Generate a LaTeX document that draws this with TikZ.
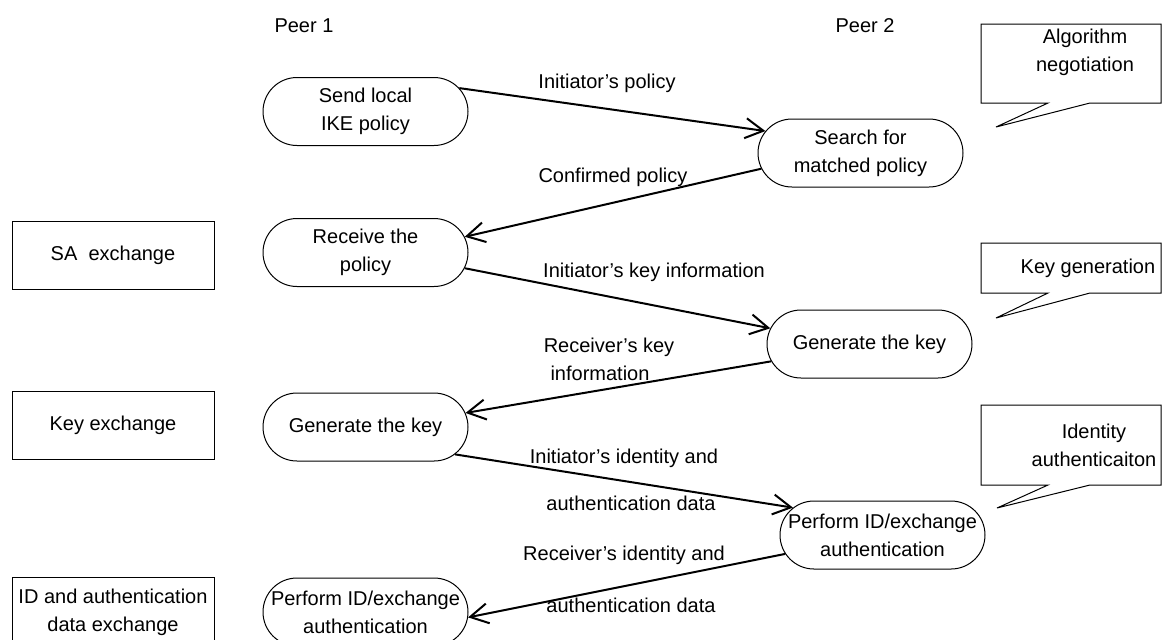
\documentclass[tikz,border=0pt]{standalone}
\usepackage{fontspec}
\setmainfont{Liberation Sans}
\usetikzlibrary{shapes.misc,arrows.meta}
\begin{document}
\begin{tikzpicture}[x=0.5pt,y=-0.5pt]
\tikzset{
  base font/.style={font=\fontsize{10pt}{14pt}\selectfont},
  stadium/.style={draw, line width=0.5pt, rounded rectangle,
    minimum width=102.5pt, minimum height=34pt, inner sep=0pt},
  txt/.style={base font, align=center, inner sep=0pt},
  phasebox/.style={draw, line width=0.5pt, minimum width=101pt,
    minimum height=34pt, inner sep=0pt, base font, align=center},
  lbl/.style={base font, anchor=base, inner sep=0pt},
  msg/.style={draw, line width=1pt,
    -{Straight Barb[length=9pt,width=10pt,line width=1pt]}},
  callout/.style={draw, line width=0.5pt, line join=miter},
}
\useasboundingbox (0,0) rectangle (1163,639);
\clip (0,0) rectangle (1163,639);

% column headings
\node[lbl] (peerA) at (304,32) {Peer 1};
\node[lbl] (peerB) at (865,32) {Peer 2};

% phase boxes on the left
\node[phasebox] (saX)  at (113,255) {SA\ \ exchange};
\node[phasebox] (keyX) at (113,425) {Key exchange};
\node[phasebox, minimum height=35pt] (idX) at (113,612) {ID and authentication\\data exchange};

% steps of peer 1
\node[stadium] (send) at (365.5,111.5) {};
\node[txt] (sendT) at (send) {Send local\\IKE policy};
\node[stadium] (recv) at (365.5,252.5) {};
\node[txt] (recvT) at (recv) {Receive the\\policy};
\node[stadium] (genA) at (365.5,427) {};
\node[txt] (genAT) at (genA) {Generate the key};
\node[stadium] (perfA) at (365.5,612) {};
\node[txt] (perfAT) at (perfA) {Perform ID/exchange\\authentication};

% steps of peer 2
\node[stadium] (search) at (860.5,153) {};
\node[txt] (searchT) at (search) {Search for\\matched policy};
\node[stadium] (genB) at (869.5,344) {};
\node[txt] (genBT) at (genB) {Generate the key};
\node[stadium] (perfB) at (882.5,535) {};
\node[txt] (perfBT) at (perfB) {Perform ID/exchange\\authentication};

% messages
\draw[msg] (send.14)    -- (search.167);
\draw[msg] (search.-171) -- (recv.9);
\draw[msg] (recv.-9)    -- (genB.171);
\draw[msg] (genB.-170)  -- (genA.8);
\draw[msg] (genA.-17)   -- (perfB.163);
\draw[msg] (perfB.-169) -- (perfA.-3);

% message labels
\node[lbl] (m1) at (607,88)  {Initiator’s policy};
\node[lbl] (m2) at (613,182) {Confirmed policy};
\node[lbl] (m3) at (654,277) {Initiator’s key information};
\node[lbl] (m4a) at (609,352) {Receiver’s key};
\node[lbl] (m4b) at (600,380) {information};
\node[lbl] (m5a) at (624,463) {Initiator’s identity and};
\node[lbl] (m5b) at (631,510) {authentication data};
\node[lbl] (m6a) at (624,560) {Receiver’s identity and};
\node[lbl] (m6b) at (631,612) {authentication data};

% callouts on the right
\draw[callout] (1048,103) -- (981,103) -- (981,24) -- (1161,24) -- (1161,103) -- (1090,103) -- (996,127) -- cycle;
\node[txt] (c1) at (1085,52) {Algorithm\\negotiation};
\draw[callout] (1048,293) -- (981,293) -- (981,243) -- (1161,243) -- (1161,293) -- (1090,293) -- (996,318) -- cycle;
\node[txt] (c2) at (1088,268) {Key generation};
\draw[callout] (1048,485) -- (981,485) -- (981,405) -- (1161,405) -- (1161,485) -- (1090,485) -- (997,508) -- cycle;
\node[txt] (c3) at (1094,445) {Identity\\authenticaiton};
\end{tikzpicture}
\end{document}
